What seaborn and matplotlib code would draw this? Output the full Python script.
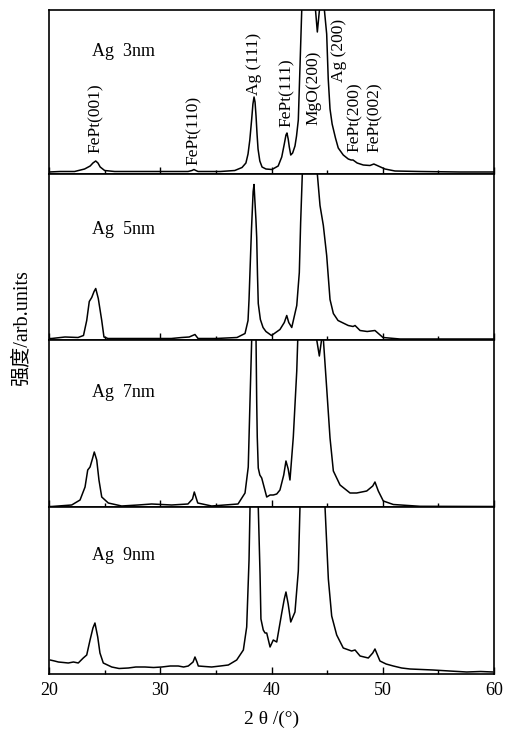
import matplotlib
matplotlib.use("Agg")
import matplotlib.pyplot as plt
import seaborn as sns
import pandas as pd
from matplotlib.ticker import MultipleLocator

sns.set_theme(style="white")
plt.rcParams['font.family'] = ['Liberation Serif', 'Noto Sans CJK SC', 'DejaVu Sans']
plt.rcParams['text.color'] = 'black'
plt.rcParams['axes.labelcolor'] = 'black'
plt.rcParams['xtick.color'] = 'black'

samples = ["Ag  3nm", "Ag  5nm", "Ag  7nm", "Ag  9nm"]

tt_3nm = [20.0, 21.0, 22.3, 23.2, 23.7, 23.95, 24.2, 24.4, 24.6, 25.0, 25.9, 28.2, 30.9, 32.5,
          32.85, 33.03, 33.2, 33.4, 35.4, 36.7, 37.35, 37.7, 37.89, 38.05, 38.22, 38.33, 38.43,
          38.52, 38.61, 38.7, 38.79, 38.95, 39.15, 39.5, 40.04, 40.6, 40.92, 41.15, 41.3, 41.39,
          41.5, 41.6, 41.73, 41.9, 42.11, 42.25, 42.41, 42.56, 42.72, 43.0, 43.91, 44.12, 44.36,
          44.5, 44.75, 44.96, 45.1, 45.26, 45.45, 45.75, 46.0, 46.45, 46.9, 47.15, 47.33, 47.7,
          48.25, 48.85, 49.2, 49.6, 50.2, 51.1, 53.3, 56.9, 60.0]
int_3nm = [2, 2.5, 2.5, 5, 8, 11, 13, 11, 7, 3.5, 2.5, 2.5, 2.5, 2.5,
           3.5, 4.5, 3.5, 2.5, 2.5, 3.5, 6.5, 11, 20, 34, 55, 70, 77,
           72, 58, 40, 25, 13, 7, 5, 4.5, 8, 17, 30, 39, 41,
           35, 27, 19, 21, 28, 38, 54, 107, 164.5, 250, 170, 142, 170,
           250, 164.5, 140, 95, 65, 50, 36, 26, 19, 15, 14, 14, 11,
           9, 8.5, 10, 8, 5, 3, 2.5, 2, 2]

tt_5nm = [20.0, 20.24, 21.44, 22.61, 23.1, 23.39, 23.62, 23.84, 24.05, 24.2, 24.43, 24.74, 24.94,
          25.3, 28.0, 31.0, 31.93, 32.6, 33.12, 33.4, 35.0, 36.9, 37.62, 37.89, 37.98, 38.07,
          38.2, 38.35, 38.43, 38.5, 38.6, 38.67, 38.74, 38.81, 39.0, 39.24, 39.5, 40.0, 40.76,
          41.15, 41.37, 41.55, 41.82, 42.27, 42.5, 42.62, 42.77, 43.0, 44.0, 44.12, 44.36, 44.66,
          44.96, 45.26, 45.56, 45.98, 46.9, 47.33, 47.51, 47.96, 48.6, 49.3, 50.02, 51.55, 60.0]
int_5nm = [1, 1, 2.5, 2, 4, 19, 38, 42, 48, 51, 41, 19, 2.5,
           1, 1, 1, 2, 2.5, 5, 1, 1, 2, 6, 19, 40, 69,
           110, 148, 155, 140, 120, 102, 65, 36, 20, 12, 8, 4, 10,
           17, 24, 17, 12, 34, 67, 117, 165.5, 250, 250, 165.5, 134, 114,
           84, 40, 26, 19, 14, 13, 14, 9, 8, 9, 2, 0.5, 0.5]

tt_7nm = [20.0, 20.24, 22.04, 22.79, 23.24, 23.48, 23.69, 23.9, 24.07, 24.29, 24.49, 24.74, 25.33,
          26.53, 28.0, 29.23, 31.03, 32.49, 32.9, 33.06, 33.2, 33.37, 34.62, 36.99, 37.62, 37.91,
          38.07, 38.22, 38.4, 38.61, 38.67, 38.72, 38.81, 38.95, 39.12, 39.57, 39.87, 40.16,
          40.47, 40.76, 41.1, 41.3, 41.5, 41.66, 41.96, 42.27, 42.36, 42.6, 44.0, 44.06, 44.3,
          44.51, 44.6, 44.66, 44.96, 45.26, 45.56, 46.16, 47.06, 47.66, 48.56, 49.1, 49.3, 49.6,
          50.05, 50.95, 53.35, 60.0]
int_7nm = [0.5, 0.5, 2, 7, 20, 37, 40, 48, 55, 47, 27, 10, 4,
           1, 2, 3, 2, 3, 8, 15, 10, 4, 1, 3, 14, 40,
           107, 167.5, 250, 167.5, 105, 70, 39, 32, 29, 10, 12, 12,
           13, 17, 32, 46, 38, 27, 70, 136, 167.5, 250, 250, 167.5, 151,
           168, 250, 168, 119, 69, 36, 22, 14, 14, 16, 21, 25, 16,
           6, 2.5, 0.7, 0.5]

tt_9nm = [20.1, 20.5, 20.84, 21.3, 21.73, 22.2, 22.63, 23.08, 23.39, 23.69, 23.95, 24.13, 24.38,
          24.58, 24.88, 25.64, 26.3, 27.13, 27.8, 28.63, 29.4, 30.13, 30.9, 31.62, 32.1, 32.52,
          32.95, 33.12, 33.3, 33.42, 34.0, 34.62, 35.4, 36.12, 36.87, 37.47, 37.77, 37.98, 38.07,
          38.4, 38.81, 38.97, 39.05, 39.26, 39.42, 39.57, 39.87, 40.16, 40.47, 40.92, 41.15,
          41.3, 41.5, 41.73, 42.11, 42.41, 42.56, 43.0, 44.0, 44.81, 45.11, 45.41, 45.86, 46.45,
          47.2, 47.51, 47.96, 48.7, 49.1, 49.3, 49.75, 50.3, 50.95, 51.7, 52.45, 53.5, 54.52,
          56.0, 57.55, 58.8, 59.9]
int_9nm = [14, 13, 12, 11.5, 11, 12, 11, 16, 19, 34, 46, 51, 37,
           21, 11, 7, 5.5, 6, 7, 7, 6.5, 7, 8, 8, 7, 8,
           12, 17, 12, 8, 7.5, 7, 8, 9, 14, 24, 47, 114, 167,
           250, 167, 100, 55, 44, 41, 41, 27, 34, 32, 61, 75,
           82, 70, 52, 62, 103, 167, 250, 250, 167, 95, 58, 39, 26,
           23, 24, 18, 16, 21, 25, 13, 10, 8, 6, 5, 4.5, 4,
           3, 2, 2.5, 2]

two_theta = [tt_3nm, tt_5nm, tt_7nm, tt_9nm]
intensity = [int_3nm, int_5nm, int_7nm, int_9nm]
panel_tops = [164.5, 165.5, 167.5, 167.0]
sample_label_y = [122, 109.5, 115, 119]

peak_labels = ["FePt(001)", "FePt(110)", "Ag (111)", "FePt(111)", "MgO(200)", "Ag (200)",
               "FePt(200)", "FePt(002)"]
peak_label_x = [24.2, 33.06, 38.43, 41.37, 43.73, 46.07, 47.5, 49.3]
peak_label_y = [21, 9, 79, 47, 49, 92, 22, 22]

fig = plt.figure(figsize=(5.12, 7.3), dpi=100)
gs = fig.add_gridspec(4, 1, left=49/512, right=494/512, top=1-9.5/730, bottom=1-674/730,
                      hspace=0, height_ratios=panel_tops)

for i in range(4):
    ax = fig.add_subplot(gs[i])
    df = pd.DataFrame({"tt": two_theta[i], "I": intensity[i]})
    sns.lineplot(data=df, x="tt", y="I", ax=ax, color="black", lw=1.1,
                 estimator=None, sort=False)
    ax.set_xlim(20, 60)
    ax.set_ylim(0, panel_tops[i])
    ax.set_xlabel("")
    ax.set_ylabel("")
    ax.set_yticks([])
    ax.xaxis.set_major_locator(MultipleLocator(10))
    ax.xaxis.set_minor_locator(MultipleLocator(5))
    ax.tick_params(axis='x', which='major', direction='in', length=5, width=1,
                   bottom=True, top=False, labelbottom=(i == 3), labelsize=13,
                   colors='black', pad=6)
    ax.tick_params(axis='x', which='minor', direction='in', length=3, width=1,
                   bottom=True, top=False)
    for sp in ax.spines.values():
        sp.set_color("black")
        sp.set_linewidth(1.2)
    ax.text(23.9, sample_label_y[i], samples[i], fontsize=13, va='center', ha='left',
            color='black')
    if i == 0:
        for lab, x, y in zip(peak_labels, peak_label_x, peak_label_y):
            ax.text(x, y, lab, rotation=90, fontsize=12.5, ha='center', va='bottom',
                    color='black')
    if i == 3:
        ax.set_xlabel("2 θ /(°)", fontsize=14, labelpad=8, color='black')

fig.text(22/512, 1-328/730, "强度/arb.units", rotation=90, fontsize=14.5,
         ha='center', va='center', color='black')

fig.savefig("out.png", dpi=100)
